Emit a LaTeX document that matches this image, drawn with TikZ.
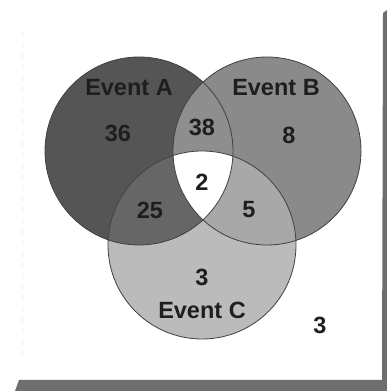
\documentclass[tikz,border=0pt]{standalone}
\usepackage{fontspec}
\setmainfont{Liberation Sans}
\definecolor{regA}{HTML}{555555}
\definecolor{regB}{HTML}{8A8A8A}
\definecolor{regC}{HTML}{BBBBBB}
\definecolor{regAB}{HTML}{8E8E8E}
\definecolor{regAC}{HTML}{666666}
\definecolor{regBC}{HTML}{A8A8A8}
\definecolor{shadowc}{HTML}{6E6E6E}
\definecolor{inkc}{HTML}{1E1E1E}
\tikzset{
  lbl/.style={font=\fontsize{23.5}{25}\selectfont\bfseries, text=inkc, inner sep=0pt},
  outline/.style={draw=inkc!85, line width=0.8pt}
}
\begin{document}
\begin{tikzpicture}[x=1pt,y=1pt]
\useasboundingbox (0,0) rectangle (387,391);
\fill[white] (0,0) rectangle (387,391);
% shadow frame
\fill[shadowc] (15,0) -- (387,0) -- (387,381) -- (383,378) -- (382,11) -- (19,11) -- cycle;
\draw[gray!12, line width=1pt, dash pattern=on 6pt off 5pt] (22,360) -- (22,30);
% coordinates of circle centres
\coordinate (ca) at (139,240);
\coordinate (cb) at (267,240);
\coordinate (cc) at (202,146);
% base fills
\fill[regA] (ca) circle (94pt);
\fill[regB] (cb) circle (94pt);
\fill[regC] (cc) circle (94pt);
\begin{scope}
  \clip (ca) circle (94pt);
  \fill[regAB] (cb) circle (94pt);
  \fill[regAC] (cc) circle (94pt);
\end{scope}
\begin{scope}
  \clip (cb) circle (94pt);
  \fill[regBC] (cc) circle (94pt);
\end{scope}
\begin{scope}
  \clip (ca) circle (94pt);
  \clip (cb) circle (94pt);
  \fill[white] (cc) circle (94pt);
\end{scope}
% outlines
\draw[outline] (ca) circle (94pt);
\draw[outline] (cb) circle (94pt);
\draw[outline] (cc) circle (94pt);
% labels
\node[lbl] (la) at (129,303) {Event A};
\node[lbl] (lb) at (276,303) {Event B};
\node[lbl] (lc) at (202,81) {Event C};
\node[lbl] (n36) at (118,258) {36};
\node[lbl] (n38) at (202,264) {38};
\node[lbl] (n8) at (289,256) {8};
\node[lbl] (n2) at (202,209) {2};
\node[lbl] (n25) at (150,181) {25};
\node[lbl] (n5) at (249,181) {5};
\node[lbl] (n3c) at (202,114) {3};
\node[lbl] (n3o) at (320,66) {3};
\end{tikzpicture}
\end{document}
